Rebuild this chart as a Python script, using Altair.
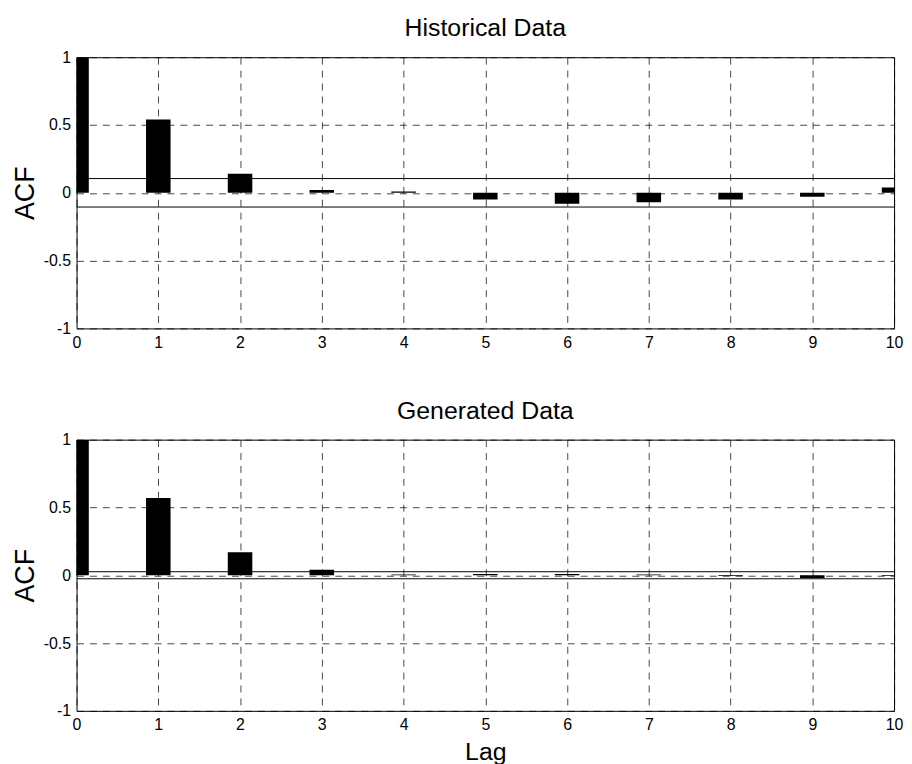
import altair as alt
import pandas as pd

lags = list(range(11))
hist_acf = [1.0, 0.54, 0.14, 0.02, 0.01, -0.05, -0.08, -0.07, -0.05, -0.03, 0.04]
gen_acf = [1.0, 0.57, 0.17, 0.04, 0.005, 0.01, 0.01, 0.005, -0.005, -0.02, -0.005]
hist_bounds = [0.105, -0.105]
gen_bounds = [0.026, -0.026]
panel_titles = ["Historical Data", "Generated Data"]
x_ticks = list(range(11))
y_ticks = [-1, -0.5, 0, 0.5, 1]

FONT = "Liberation Sans"


def panel(title, acf, bounds, show_xtitle):
    df = pd.DataFrame({"lag": lags, "acf": acf})
    xaxis = alt.Axis(
        values=x_ticks,
        title="Lag" if show_xtitle else None,
        labelExpr="'' + datum.value",
    )
    yaxis = alt.Axis(values=y_ticks, title="ACF", labelExpr="'' + datum.value")
    bars = (
        alt.Chart(df)
        .transform_calculate(x0="datum.lag - 0.15", x1="datum.lag + 0.15", zero="0")
        .mark_bar(color="black", clip=True)
        .encode(
            x=alt.X("x0:Q", scale=alt.Scale(domain=[0, 10], nice=False, zero=False), axis=xaxis),
            x2="x1:Q",
            y=alt.Y("acf:Q", scale=alt.Scale(domain=[-1, 1], nice=False), axis=yaxis),
            y2="zero:Q",
        )
    )
    bdf = pd.DataFrame({"b": bounds})
    rules = alt.Chart(bdf).mark_rule(color="black", strokeWidth=1).encode(y="b:Q")
    return alt.layer(bars, rules).properties(
        width=823,
        height=273,
        title=alt.TitleParams(
            title, fontSize=25, font=FONT, fontWeight="normal", offset=8,
            color="black", frame="group",
        ),
    )


top = panel(panel_titles[0], hist_acf, hist_bounds, False)
bottom = panel(panel_titles[1], gen_acf, gen_bounds, True)

chart = (
    alt.vconcat(top, bottom, spacing=47)
    .properties(padding={"left": 2, "top": 5, "right": 0, "bottom": 0}, background="white")
    .configure_view(stroke="black", strokeWidth=1)
    .configure_axis(
        grid=True,
        gridColor="black",
        gridDash=[7, 6],
        gridWidth=0.8,
        gridOpacity=0.9,
        domain=False,
        ticks=False,
        labelFont=FONT,
        labelFontSize=16,
        labelColor="black",
        labelPadding=6,
        labelFlush=False,
        labelOverlap=False,
        labelBound=False,
        titleFont=FONT,
        titleFontWeight="normal",
        titleColor="black",
    )
    .configure_axisY(titleFontSize=27, titlePadding=4)
    .configure_axisX(titleFontSize=25, titlePadding=7)
)

chart.save("out.html", embed_options={"renderer": "svg", "actions": False})
